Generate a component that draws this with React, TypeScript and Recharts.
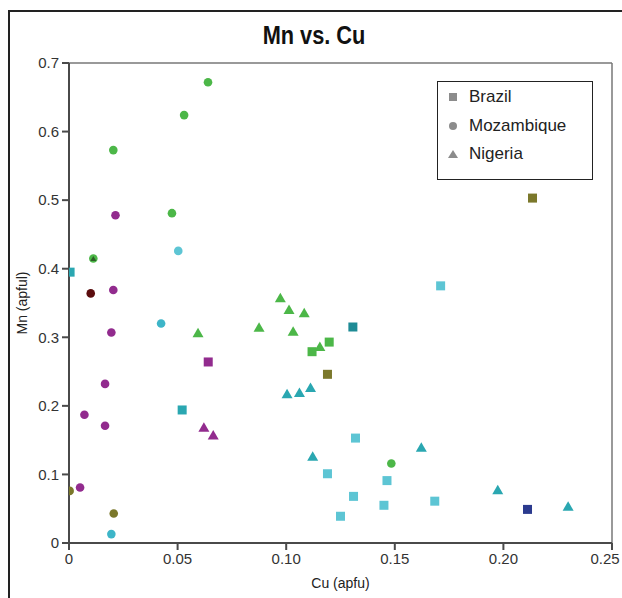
import React from "react";
import {
  ScatterChart,
  Scatter,
  XAxis,
  YAxis,
  ReferenceLine,
  Label,
} from "recharts";

// ---- data ----
const xTicks = [0, 0.05, 0.1, 0.15, 0.2, 0.25];
const xTickLabels = ["0", "0.05", "0.10", "0.15", "0.20", "0.25"];
const yTicks = [0, 0.1, 0.2, 0.3, 0.4, 0.5, 0.6, 0.7];
const yTickLabels = ["0", "0.1", "0.2", "0.3", "0.4", "0.5", "0.6", "0.7"];

const countries = ["Brazil", "Mozambique", "Nigeria"];

// each point: Cu (x), Mn (y), sample group (g)
const brazil = [
  { x: 0.0005, y: 0.395, g: "teal" },
  { x: 0.0641, y: 0.264, g: "purple" },
  { x: 0.0521, y: 0.194, g: "teal" },
  { x: 0.1711, y: 0.375, g: "lightCyan" },
  { x: 0.1307, y: 0.315, g: "darkTeal" },
  { x: 0.1198, y: 0.293, g: "green" },
  { x: 0.1119, y: 0.279, g: "green" },
  { x: 0.119, y: 0.246, g: "olive" },
  { x: 0.2134, y: 0.503, g: "olive" },
  { x: 0.1319, y: 0.153, g: "lightCyan" },
  { x: 0.119, y: 0.101, g: "lightCyan" },
  { x: 0.1464, y: 0.091, g: "lightCyan" },
  { x: 0.131, y: 0.068, g: "lightCyan" },
  { x: 0.1684, y: 0.061, g: "lightCyan" },
  { x: 0.145, y: 0.055, g: "lightCyan" },
  { x: 0.125, y: 0.039, g: "lightCyan" },
  { x: 0.2111, y: 0.049, g: "navy" },
];

const mozambique = [
  { x: 0.064, y: 0.672, g: "green" },
  { x: 0.053, y: 0.624, g: "green" },
  { x: 0.0204, y: 0.573, g: "green" },
  { x: 0.0474, y: 0.481, g: "green" },
  { x: 0.0214, y: 0.478, g: "purple" },
  { x: 0.0503, y: 0.426, g: "lightCyan" },
  { x: 0.0112, y: 0.415, g: "green" },
  { x: 0.01, y: 0.364, g: "maroon" },
  { x: 0.0204, y: 0.369, g: "purple" },
  { x: 0.0424, y: 0.32, g: "cyan" },
  { x: 0.0195, y: 0.307, g: "purple" },
  { x: 0.0166, y: 0.232, g: "purple" },
  { x: 0.0071, y: 0.187, g: "purple" },
  { x: 0.0166, y: 0.171, g: "purple" },
  { x: 0.0051, y: 0.081, g: "purple" },
  { x: 0.0003, y: 0.076, g: "olive" },
  { x: 0.0206, y: 0.043, g: "olive" },
  { x: 0.0195, y: 0.013, g: "cyan" },
  { x: 0.1484, y: 0.116, g: "green" },
];

const nigeria = [
  { x: 0.0112, y: 0.415, g: "darkGreen" },
  { x: 0.0594, y: 0.307, g: "green" },
  { x: 0.0621, y: 0.169, g: "purple" },
  { x: 0.0664, y: 0.158, g: "purple" },
  { x: 0.0973, y: 0.358, g: "green" },
  { x: 0.1013, y: 0.341, g: "green" },
  { x: 0.1083, y: 0.336, g: "green" },
  { x: 0.0875, y: 0.315, g: "green" },
  { x: 0.1032, y: 0.309, g: "green" },
  { x: 0.1155, y: 0.287, g: "green" },
  { x: 0.1112, y: 0.227, g: "teal" },
  { x: 0.1061, y: 0.22, g: "teal" },
  { x: 0.1004, y: 0.218, g: "teal" },
  { x: 0.1622, y: 0.14, g: "teal" },
  { x: 0.1122, y: 0.127, g: "teal" },
  { x: 0.1974, y: 0.078, g: "teal" },
  { x: 0.2298, y: 0.054, g: "teal" },
];

// ---- styles ----
const palette: Record<string, string> = {
  green: "#4cb748",
  darkGreen: "#2e5e27",
  purple: "#922b8e",
  lightCyan: "#5dc5d4",
  cyan: "#3db5c8",
  teal: "#2aa7b1",
  darkTeal: "#1e8b95",
  olive: "#7b782b",
  maroon: "#5b0d0e",
  navy: "#2b3a8e",
};

const FONT = '"Liberation Sans", Arial, sans-serif';
const AXIS = "#4a4a4a";

const SquareShape = (p: any) => {
  if (p.cx == null || p.cy == null) return null;
  const s = 9;
  return (
    <rect
      x={p.cx - s / 2}
      y={p.cy - s / 2}
      width={s}
      height={s}
      fill={palette[p.payload.g]}
    />
  );
};

const CircleShape = (p: any) => {
  if (p.cx == null || p.cy == null) return null;
  return <circle cx={p.cx} cy={p.cy} r={4.3} fill={palette[p.payload.g]} />;
};

const TriangleShape = (p: any) => {
  if (p.cx == null || p.cy == null) return null;
  const small = p.payload.g === "darkGreen";
  const w = small ? 6 : 11;
  const h = small ? 5 : 9.5;
  const pts = `${p.cx - w / 2},${p.cy + h / 2} ${p.cx + w / 2},${p.cy + h / 2} ${p.cx},${p.cy - h / 2}`;
  return <polygon points={pts} fill={palette[p.payload.g]} />;
};

const XTick = (p: any) => {
  const { x, y, payload, index, visibleTicksCount } = p;
  const last = index === (visibleTicksCount ?? xTicks.length) - 1;
  const label = xTickLabels[xTicks.indexOf(payload.value)] ?? String(payload.value);
  return (
    <text
      x={x + (last ? -7 : 0)}
      y={y + 12}
      textAnchor="middle"
      fontFamily={FONT}
      fontSize={15}
      fill="#333"
    >
      {label}
    </text>
  );
};

const legendMarker = (name: string) => {
  const c = "#8c8c8c";
  if (name === "Brazil") return <rect x={2} y={3} width={8} height={8} fill={c} />;
  if (name === "Mozambique") return <circle cx={6} cy={7} r={4} fill={c} />;
  return <polygon points="1,11 11,11 6,3" fill={c} />;
};

const LegendBox = () => (
  <div
    style={{
      position: "absolute",
      left: 437,
      top: 81,
      border: "1.5px solid #222",
      background: "#fff",
      width: 156,
      height: 99,
      boxSizing: "border-box",
      paddingTop: 1,
      paddingLeft: 9,
      fontFamily: FONT,
      fontSize: 17,
      color: "#222",
    }}
  >
    {countries.map((n) => (
      <div
        key={n}
        style={{ display: "flex", alignItems: "center", height: 28.5 }}
      >
        <svg width={12} height={14} style={{ marginRight: 10 }}>
          {legendMarker(n)}
        </svg>
        <span>{n}</span>
      </div>
    ))}
  </div>
);

const YTitle = (props: any) => {
  const vb = props.viewBox || {};
  const cx = 22;
  const cy = (vb.y || 0) + (vb.height || 0) / 2;
  return (
    <text
      x={cx}
      y={cy}
      transform={`rotate(-90, ${cx}, ${cy})`}
      textAnchor="middle"
      dominantBaseline="central"
      fontFamily={FONT}
      fontSize={14}
      fill="#222"
    >
      Mn (apful)
    </text>
  );
};

const XTitle = (props: any) => {
  const vb = props.viewBox || {};
  const cx = (vb.x || 0) + (vb.width || 0) / 2;
  return (
    <text
      x={cx}
      y={(vb.y || 0) + 45}
      textAnchor="middle"
      fontFamily={FONT}
      fontSize={14}
      fill="#222"
    >
      Cu (apfu)
    </text>
  );
};

export default function App() {
  return (
    <div
      style={{
        position: "absolute",
        left: 0,
        top: 0,
        width: 622,
        height: 598,
        overflow: "hidden",
        background: "#fff",
      }}
    >
      <div
        style={{
          position: "absolute",
          left: 8,
          top: 10,
          width: 620,
          height: 590,
          boxSizing: "border-box",
          borderLeft: "2px solid #222",
          borderTop: "2px solid #222",
        }}
      />
      <div
        style={{
          position: "absolute",
          left: 0,
          top: 20,
          width: 628,
          textAlign: "center",
          fontFamily: FONT,
          fontWeight: "bold",
          fontSize: 25,
          lineHeight: "30px",
          color: "#111",
          transform: "scaleX(0.87)",
          transformOrigin: "314px 0",
        }}
      >
        Mn vs. Cu
      </div>
      <div style={{ position: "absolute", left: 0, top: 0 }}>
        <ScatterChart
          width={622}
          height={598}
          margin={{ top: 63, right: 10, bottom: 0, left: 10 }}
        >
          <XAxis
            type="number"
            dataKey="x"
            domain={[0, 0.25]}
            ticks={xTicks}
            height={55}
            tickSize={7}
            axisLine={{ stroke: AXIS, strokeWidth: 2 }}
            tickLine={{ stroke: AXIS, strokeWidth: 2 }}
            tick={XTick}
            interval={0}
            allowDataOverflow
          >
            <Label content={XTitle} />
          </XAxis>
          <YAxis
            type="number"
            dataKey="y"
            domain={[0, 0.7]}
            ticks={yTicks}
            tickFormatter={(v: number) => yTickLabels[yTicks.indexOf(v)] ?? String(v)}
            width={59}
            tickSize={7}
            tickMargin={3}
            interval={0}
            axisLine={{ stroke: AXIS, strokeWidth: 2 }}
            tickLine={{ stroke: AXIS, strokeWidth: 2 }}
            tick={{ fill: "#333", fontSize: 15, fontFamily: FONT }}
            allowDataOverflow
          >
            <Label content={YTitle} />
          </YAxis>
          <ReferenceLine y={0.7} stroke="#777" strokeWidth={1.5} />
          <ReferenceLine x={0.25} stroke="#777" strokeWidth={1.5} />
          <Scatter
            name="Brazil"
            data={brazil}
            shape={SquareShape}
            isAnimationActive={false}
          />
          <Scatter
            name="Mozambique"
            data={mozambique}
            shape={CircleShape}
            isAnimationActive={false}
          />
          <Scatter
            name="Nigeria"
            data={nigeria}
            shape={TriangleShape}
            isAnimationActive={false}
          />
        </ScatterChart>
      </div>
      <LegendBox />
    </div>
  );
}
